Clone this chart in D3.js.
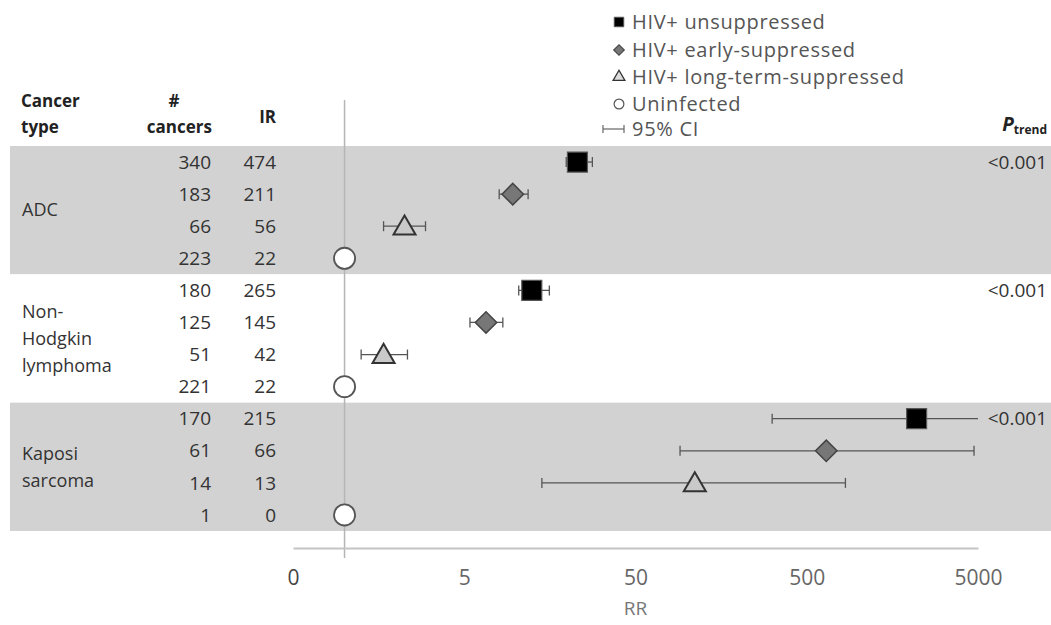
<!DOCTYPE html>
<html>
<head>
<meta charset="utf-8">
<script src="https://cdn.jsdelivr.net/npm/d3@7.9.0/dist/d3.min.js"></script>
<style>
  html, body { margin: 0; padding: 0; background: #fff; }
  svg { display: block; font-family: "Open Sans", "DejaVu Sans", sans-serif; }
</style>
</head>
<body>
<svg id="chart" width="1051" height="625"></svg>
<script>
const cancerLabels = [["ADC"], ["Non-", "Hodgkin", "lymphoma"], ["Kaposi", "sarcoma"]];
const groups = ["HIV+ unsuppressed", "HIV+ early-suppressed", "HIV+ long-term-suppressed", "Uninfected"];
const nCancers = [[340, 183, 66, 223], [180, 125, 51, 221], [170, 61, 14, 1]];
const incidence = [[474, 211, 56, 22], [265, 145, 42, 22], [215, 66, 13, 0]];
const rr = [[22.9, 9.6, 2.24, 1], [12.4, 6.7, 1.69, 1], [2190, 650, 111, 1]];
const ciLow = [[19.7, 8.0, 1.69, null], [10.4, 5.4, 1.25, null], [314, 91, 14.2, null]];
const ciHigh = [[28.0, 11.8, 2.97, null], [15.7, 8.4, 2.33, null], [6000, 4740, 841, null]];
const pTrend = ["<0.001", "<0.001", "<0.001"];
const tickValues = [0.5, 5, 50, 500, 5000];
const tickLabels = ["0", "5", "50", "500", "5000"];

const svg = d3.select("#chart");

// one row per cancer type x group
const rows = cancerLabels.flatMap((label, i) =>
  groups.map((g, j) => ({
    type: i,
    group: j,
    key: `${i}-${j}`,
    n: nCancers[i][j],
    ir: incidence[i][j],
    rr: rr[i][j],
    lo: ciLow[i][j],
    hi: ciHigh[i][j],
  })),
);

const y = d3.scaleBand().domain(rows.map((d) => d.key)).range([146, 531]).padding(0);
const x = d3.scaleLog().domain([0.5, 5000]).range([293, 978]).clamp(true);
const yc = (d) => y(d.key) + y.bandwidth() / 2;

// bands
const bandData = cancerLabels.map((label, i) => {
  const r = rows.filter((d) => d.type === i);
  return { i, top: y(r[0].key), bottom: y(r[r.length - 1].key) + y.bandwidth() };
});

svg
  .append("g")
  .selectAll("rect")
  .data(bandData)
  .join("rect")
  .attr("x", 10)
  .attr("width", 1041)
  .attr("y", (d) => d.top)
  .attr("height", (d) => d.bottom - d.top)
  .attr("fill", (d) => (d.i % 2 === 0 ? "#d2d2d2" : "#ffffff"));

// reference line at RR = 1
svg
  .append("line")
  .attr("x1", x(1))
  .attr("x2", x(1))
  .attr("y1", 100)
  .attr("y2", 558)
  .attr("stroke", "#b5b5b5")
  .attr("stroke-width", 1.5);

// axis
const axis = d3
  .axisBottom(x)
  .tickValues(tickValues)
  .tickFormat((d, i) => tickLabels[i])
  .tickSize(0)
  .tickSizeOuter(0)
  .tickPadding(22);

const axisG = svg.append("g").attr("transform", "translate(0,548)").call(axis);
axisG.select(".domain").attr("stroke", "#c4c4c4").attr("stroke-width", 2);
axisG
  .selectAll("text")
  .attr("font-size", 21)
  .attr("fill", (d, i) => (i === 0 ? "#444" : "#666"))
  .attr("font-family", "'Open Sans', sans-serif");

svg
  .append("text")
  .attr("x", x(50))
  .attr("y", 615)
  .attr("text-anchor", "middle")
  .attr("font-size", 19)
  .attr("fill", "#777")
  .text("RR");

// header
const header = svg.append("g").attr("font-weight", "bold").attr("font-size", 17).attr("fill", "#222");
header.append("text").attr("x", 21).attr("y", 107).text("Cancer");
header.append("text").attr("x", 21).attr("y", 133).text("type");
header.append("text").attr("x", 174).attr("y", 107).attr("text-anchor", "middle").text("#");
header.append("text").attr("x", 212).attr("y", 133).attr("text-anchor", "end").text("cancers");
header.append("text").attr("x", 276).attr("y", 123).attr("text-anchor", "end").text("IR");

const pt = svg.append("text").attr("x", 1047).attr("y", 131).attr("text-anchor", "end").attr("fill", "#222").attr("font-weight", "bold");
pt.append("tspan").attr("font-style", "italic").attr("font-size", 19).text("P");
pt.append("tspan").attr("font-size", 12).attr("dy", 3).text("trend");

// cancer type labels
svg
  .append("g")
  .selectAll("text")
  .data(bandData)
  .join("text")
  .attr("x", 22)
  .attr("font-size", 18)
  .attr("fill", "#333")
  .each(function (d) {
    const lines = cancerLabels[d.i];
    const mid = (d.top + d.bottom) / 2;
    const lh = 27;
    d3.select(this)
      .selectAll("tspan")
      .data(lines)
      .join("tspan")
      .attr("x", 22)
      .attr("y", (l, k) => mid + (k - (lines.length - 1) / 2) * lh)
      .attr("dy", "0.35em")
      .text((l) => l);
  });

// table numbers
const table = svg.append("g").attr("font-size", 19).attr("fill", "#333").attr("text-anchor", "end");
table
  .selectAll("text.n")
  .data(rows)
  .join("text")
  .attr("class", "n")
  .attr("x", 211)
  .attr("y", yc)
  .attr("dy", "0.35em")
  .text((d) => d.n);
table
  .selectAll("text.ir")
  .data(rows)
  .join("text")
  .attr("class", "ir")
  .attr("x", 276)
  .attr("y", yc)
  .attr("dy", "0.35em")
  .text((d) => d.ir);

// p trend values
svg
  .append("g")
  .selectAll("text")
  .data(bandData)
  .join("text")
  .attr("x", 1047)
  .attr("y", (d) => d.top + y.bandwidth() / 2)
  .attr("dy", "0.35em")
  .attr("text-anchor", "end")
  .attr("font-size", 19)
  .attr("fill", "#333")
  .text((d) => pTrend[d.i]);

// error bars
const ciRows = rows.filter((d) => d.lo != null);
const ci = svg.append("g").attr("stroke", "#555").attr("stroke-width", 1.3);
ci.selectAll("line.bar")
  .data(ciRows)
  .join("line")
  .attr("class", "bar")
  .attr("x1", (d) => x(d.lo))
  .attr("x2", (d) => x(d.hi))
  .attr("y1", yc)
  .attr("y2", yc);
const caps = ciRows.flatMap((d) =>
  [d.lo, d.hi].filter((v) => v <= x.domain()[1]).map((v) => ({ v, d })),
);
ci.selectAll("line.cap")
  .data(caps)
  .join("line")
  .attr("class", "cap")
  .attr("x1", (c) => x(c.v))
  .attr("x2", (c) => x(c.v))
  .attr("y1", (c) => yc(c.d) - 5)
  .attr("y2", (c) => yc(c.d) + 5);

// markers
const markerStyle = [
  { type: d3.symbolSquare, size: 400, fill: "#000", stroke: "#555", width: 1.2, rotate: 0 },
  { type: d3.symbolSquare, size: 230, fill: "#777", stroke: "#444", width: 1.5, rotate: 45 },
  { type: d3.symbolTriangle, size: 210, fill: "#c9c9c9", stroke: "#333", width: 2, rotate: 0 },
  { type: d3.symbolCircle, size: 350, fill: "#fff", stroke: "#555", width: 1.8, rotate: 0 },
];

svg
  .append("g")
  .selectAll("path")
  .data(rows)
  .join("path")
  .attr("d", (d) => d3.symbol(markerStyle[d.group].type, markerStyle[d.group].size)())
  .attr("transform", (d) => `translate(${x(d.rr)},${yc(d) + (d.group === 2 ? 2 : 0)}) rotate(${markerStyle[d.group].rotate})`)
  .attr("fill", (d) => markerStyle[d.group].fill)
  .attr("stroke", (d) => markerStyle[d.group].stroke)
  .attr("stroke-width", (d) => markerStyle[d.group].width);

// legend
const legendY = [22, 50, 77, 104];
const legend = svg.append("g");
const legendStyle = [
  { size: 90, width: 1 },
  { size: 55, width: 1.2 },
  { size: 60, width: 1.3 },
  { size: 75, width: 1.2 },
];
legend
  .selectAll("path")
  .data(groups)
  .join("path")
  .attr("d", (g, i) => d3.symbol(markerStyle[i].type, legendStyle[i].size)())
  .attr("transform", (g, i) => `translate(619,${legendY[i]}) rotate(${markerStyle[i].rotate})`)
  .attr("fill", (g, i) => (i === 2 ? "#ddd" : markerStyle[i].fill))
  .attr("stroke", (g, i) => markerStyle[i].stroke)
  .attr("stroke-width", (g, i) => legendStyle[i].width);

legend
  .selectAll("text")
  .data([...groups, "95% CI"])
  .join("text")
  .attr("x", 632)
  .attr("y", (g, i) => (i < 4 ? legendY[i] : 129))
  .attr("dy", "0.35em")
  .attr("font-size", 20)
  .attr("letter-spacing", 0.7)
  .attr("fill", "#555")
  .text((g) => g);

const ciIcon = legend.append("g").attr("stroke", "#666").attr("stroke-width", 1.2);
ciIcon.append("line").attr("x1", 603).attr("x2", 624).attr("y1", 129).attr("y2", 129);
ciIcon.append("line").attr("x1", 603).attr("x2", 603).attr("y1", 125).attr("y2", 133);
ciIcon.append("line").attr("x1", 624).attr("x2", 624).attr("y1", 125).attr("y2", 133);
</script>
</body>
</html>
